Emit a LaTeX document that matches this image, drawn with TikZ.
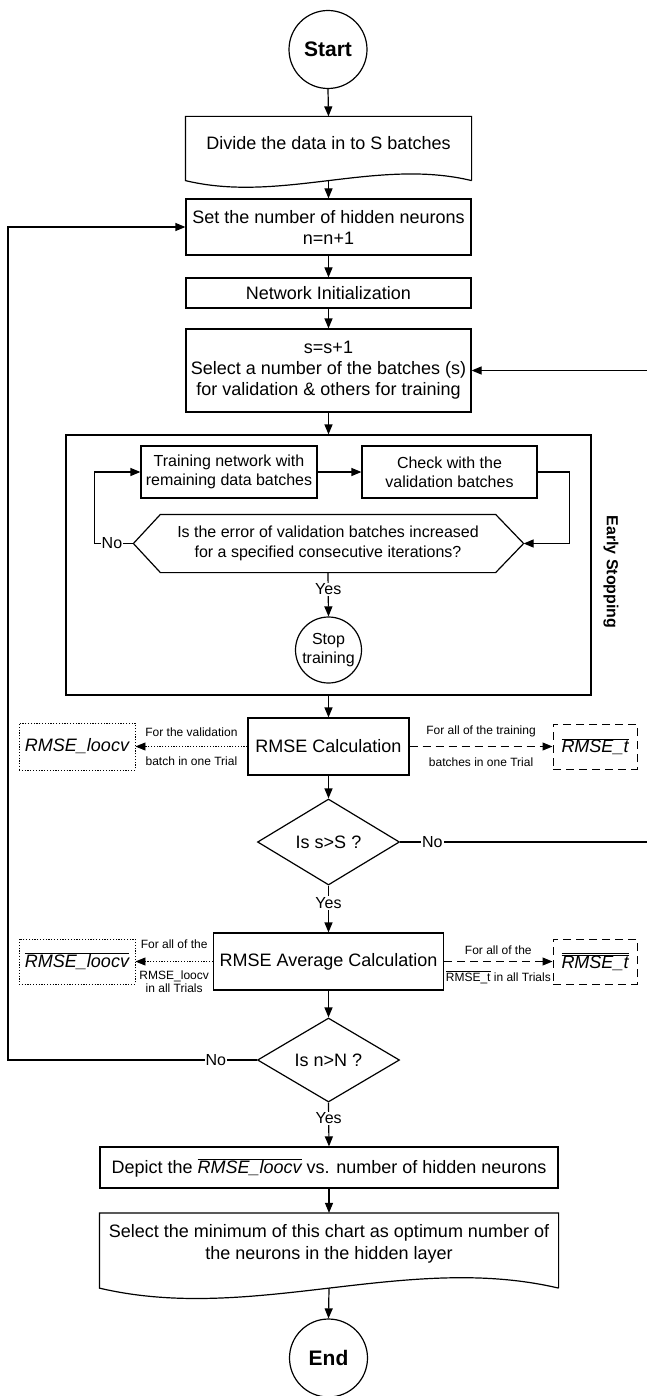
\documentclass[tikz,border=0pt]{standalone}
\usepackage{fontspec}
\setmainfont{Liberation Sans}
\usetikzlibrary{arrows.meta,shapes.geometric,calc}
\begin{document}
\begin{tikzpicture}[x=1pt,y=-1pt,line width=1.2pt,
  base/.style={font=\fontsize{18}{21}\selectfont, inner sep=0pt},
  box/.style={base, draw, rectangle, align=center},
  midfont/.style={font=\fontsize{16}{19}\selectfont},
  term/.style={circle, draw, inner sep=0pt, font=\bfseries\fontsize{21}{24}\selectfont},
  small/.style={font=\fontsize{12}{13}\selectfont, inner sep=0pt, align=center},
  yn/.style={font=\fontsize{16}{18}\selectfont, fill=white, inner sep=1pt},
  flow/.style={-{Triangle[length=10pt,width=8pt]}},
  dotline/.style={line width=0.9pt, dash pattern=on 1.2pt off 1.6pt},
  dashline/.style={line width=1pt, dash pattern=on 8pt off 5pt},
  decision/.style={base, diamond, draw, minimum width=142pt}]

\fill[white] (0,0) rectangle (646,1396);
\useasboundingbox (0,0) rectangle (646,1396);

% ---- top part of the chart ----
\node[term, minimum size=78pt] (start) at (328,49.5) {Start};

\node[draw=none, minimum width=285pt, minimum height=63pt, inner sep=0pt] (divide) at (328.5,148.5) {};
\draw (divide.south east) -- (divide.north east) -- (divide.north west) -- (divide.south west)
  .. controls ($(divide.south west)+(95,23)$) and ($(divide.south east)+(-95,-23)$) .. (divide.south east);
\node[base] (dividetext) at (328.5,143) {Divide the data in to S batches};

\node[box, minimum width=285pt, minimum height=56pt] (set) at (328.5,227)
  {Set the number of hidden neurons\\n=n+1};
\node[box, minimum width=285pt, minimum height=30pt] (net) at (328.5,293) {Network Initialization};
\node[box, minimum width=285pt, minimum height=83pt] (sel) at (328.5,370.5)
  {s=s+1\\Select a number of the batches (s)\\for validation \& others for training};

% ---- early stopping block ----
\node[draw, minimum width=525pt, minimum height=260pt, inner sep=0pt] (es) at (328.5,565) {};
\node[font=\bfseries\fontsize{16}{18}\selectfont, rotate=-90, inner sep=0pt] (eslabel) at (611,572) {Early Stopping};

\node[box, midfont, minimum width=176pt, minimum height=52pt] (train) at (229,472)
  {Training network with\\remaining data batches};
\node[box, midfont, minimum width=175pt, minimum height=52pt] (check) at (449.5,472)
  {Check with the\\validation batches};

\node[inner sep=0pt, font=\fontsize{16}{20}\selectfont, align=center,
  minimum width=334pt, minimum height=57pt] (hex) at (328,543.5)
  {Is the error of validation batches increased\\for a specified consecutive iterations?};
\coordinate (hexL) at ($(hex.west)+(-27,0)$);
\coordinate (hexR) at ($(hex.east)+(28,0)$);
\draw (hex.north west) -- (hex.north east) -- (hexR) -- (hex.south east)
  -- (hex.south west) -- (hexL) -- cycle;

\node[circle, draw, inner sep=0pt, minimum size=66pt, align=center,
  font=\fontsize{16}{19}\selectfont] (stop) at (328.5,650) {Stop\\training};

% ---- error calculation ----
\node[box, minimum width=161pt, minimum height=57pt] (calc) at (328.5,746.5) {RMSE Calculation};
\node[base, draw, dotline, minimum width=116pt, minimum height=47pt] (loocv) at (77,746.5)
  {\itshape RMSE\_loocv};
\node[base, draw, dashline, minimum width=84pt, minimum height=45pt] (tbar) at (595,746.5)
  {$\overline{\mbox{\itshape RMSE\_t}}$};

\node[decision, minimum height=86pt] (dS) at (328.5,842) {Is s>S ?};

\node[box, minimum width=230pt, minimum height=57pt] (avg) at (328.5,961.5) {RMSE Average Calculation};
\node[base, draw, dotline, minimum width=116pt, minimum height=45pt] (loocvbar) at (77,961.5)
  {$\overline{\mbox{\itshape RMSE\_loocv}}$};
\node[base, draw, dashline, minimum width=84pt, minimum height=45pt] (tbarbar) at (595,961.5)
  {$\overline{\overline{\mbox{\itshape RMSE\_t}}}$};

\node[decision, minimum height=84pt] (dN) at (328.5,1060) {Is n>N ?};

% ---- final steps ----
\node[box, minimum width=458pt, minimum height=41pt] (depict) at (329,1167.5)
  {Depict the $\overline{\mbox{\itshape RMSE\_loocv}}$ vs. number of hidden neurons};

\node[draw=none, minimum width=458pt, minimum height=74pt, inner sep=0pt] (select) at (329,1250.5) {};
\draw (select.south east) -- (select.north east) -- (select.north west) -- (select.south west)
  .. controls ($(select.south west)+(153,36)$) and ($(select.south east)+(-153,-36)$) .. (select.south east);
\node[base, align=center, font=\fontsize{18}{22}\selectfont] (selecttext) at (329,1244)
  {Select the minimum of this chart as optimum number of\\the neurons in the hidden layer};

\node[term, minimum size=78pt] (end) at (328.5,1358) {End};

% ---- connectors ----
\draw[flow] (start.south) -- (divide.north);
\draw[flow] (divide.south) -- (set.north);
\draw[flow] (set.south) -- (net.north);
\draw[flow] (net.south) -- (sel.north);
\draw[flow] (sel.south) -- (es.north);

\draw[flow] (train.east) -- (check.west);
\draw[flow] (check.east) -- ++(32,0) |- (hexR);
\draw[flow] (hexL) -- node[yn, pos=0.55] (nohex) {No} ++(-39,0) |- (train.west);
\draw[flow] (hex.south) -- node[yn, pos=0.38] (yeshex) {Yes} (stop.north);

\draw[flow] (es.south) -- (calc.north);
\draw[flow, dotline] (calc.west) --
  node[small, midway, yshift=14pt] (lbl1) {For the validation}
  node[small, midway, yshift=-15pt] (lbl2) {batch in one Trial} (loocv.east);
\draw[flow, dashline] (calc.east) --
  node[small, midway, yshift=15pt] (lbl3) {For all of the training}
  node[small, midway, yshift=-16pt] (lbl4) {batches in one Trial} (tbar.west);

\draw[flow] (calc.south) -- (dS.north);
\draw[flow] (dS.east) -- node[yn, pos=0.13] (noS) {No} ++(248,0) |- (sel.east);
\draw[flow] (dS.south) -- node[yn, pos=0.37] (yesS) {Yes} (avg.north);

\draw[flow, dotline] (avg.west) --
  node[small, midway, yshift=17.5pt] (lbl5) {For all of the}
  node[small, midway, yshift=-20pt] (lbl6) {RMSE\_loocv\\in all Trials} (loocvbar.east);
\draw[flow, dashline] (avg.east) --
  node[small, midway, yshift=11.5pt] (lbl7) {For all of the}
  node[small, midway, yshift=-15.5pt] (lbl8) {$\overline{\mbox{RMSE\_t}}$ in all Trials} (tbarbar.west);

\draw[flow] (avg.south) -- (dN.north);
\draw[flow] (dN.west) -- node[yn, pos=0.165] (noN) {No} ++(-249,0) |- (set.west);
\draw[flow] (dN.south) -- node[yn, pos=0.36] (yesN) {Yes} (depict.north);

\draw[flow] (depict.south) -- (select.north);
\draw[flow] (select.south) -- (end.north);
\end{tikzpicture}
\end{document}
